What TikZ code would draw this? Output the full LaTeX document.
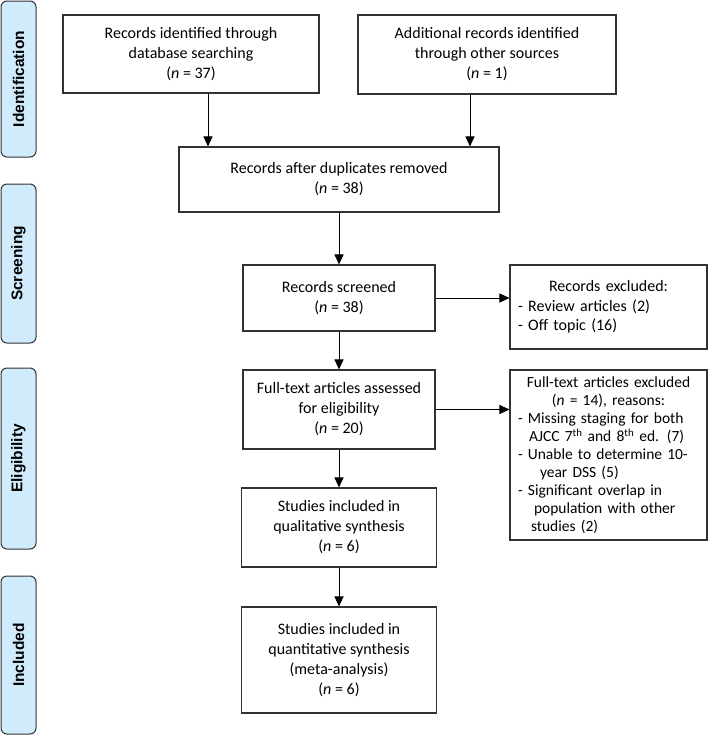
\documentclass[tikz,border=0pt]{standalone}
\usepackage{fontspec}
\setmainfont{Carlito}
\newfontfamily\phasefont{Liberation Sans}
\usetikzlibrary{arrows.meta}
\definecolor{phaseblue}{RGB}{208,236,252}
\definecolor{boxgray}{RGB}{50,50,50}

\begin{document}
\begin{tikzpicture}[x=1pt, y=-1pt]
	    \tikzstyle{box}=[draw=boxgray, line width=1.1pt, rectangle, inner sep=0pt, align=center, font=\fontsize{16}{20}\selectfont]
	    \tikzstyle{listbox}=[draw=boxgray, line width=1.1pt, rectangle, inner sep=0pt, text width=181pt, font=\fontsize{16}{19.5}\selectfont]
	    \tikzstyle{phase}=[draw=boxgray, line width=1pt, fill=phaseblue, rounded corners=6pt, inner sep=0pt, minimum height=35pt, rotate=90, font=\phasefont\bfseries\fontsize{15.5}{17}\selectfont]
	    \tikzstyle{arrow}=[draw, line width=1pt, black, -{Triangle[length=10pt,width=9pt]}]
	    \useasboundingbox (0,0) rectangle (709,736);
	    % phases
	    \node[phase, minimum width=156pt] (p1) at (18.5,79) {Identification};
	    \node[phase, minimum width=159pt] (p2) at (18.5,263.5) {Screening};
	    \node[phase, minimum width=181pt] (p3) at (18.5,458.5) {Eligibility};
	    \node[phase, minimum width=158pt] (p4) at (18.5,655) {Included};
	    % main boxes
	    \node[box, minimum width=256pt, minimum height=78pt] (ident) at (191,54) {Records identified through\\database searching\\(\textit{n} = 37)};
	    \node[box, minimum width=258pt, minimum height=79pt] (other) at (487,54.5) {Additional records identified\\through other sources\\(\textit{n} = 1)};
	    \node[box, minimum width=320pt, minimum height=65pt] (dup) at (339,179.5) {Records after duplicates removed\\(\textit{n} = 38)};
	    \node[box, minimum width=192pt, minimum height=66pt] (screen) at (339,298) {Records screened\\(\textit{n} = 38)};
	    \node[box, minimum width=192pt, minimum height=79pt] (full) at (339,409.5) {Full-text articles assessed\\for eligibility\\(\textit{n} = 20)};
	    \node[box, minimum width=195pt, minimum height=79pt] (qual) at (339,527.5) {Studies included in\\qualitative synthesis\\(\textit{n} = 6)};
	    \node[box, minimum width=195pt, minimum height=106pt] (quant) at (339,660) {Studies included in\\quantitative synthesis\\(meta-analysis)\\(\textit{n} = 6)};
	    % exclusion boxes
	    \node[listbox, minimum width=197pt, minimum height=84pt] (excl) at (608.5,307) {{\centering Records excluded:\par}\raggedright - Review articles (2)\\- Off topic (16)};
	    \node[listbox, minimum width=197pt, minimum height=170pt, font=\fontsize{15.5}{18}\selectfont] (fexcl) at (608.5,455) {{\centering Full-text articles excluded\\(\textit{n} = 14), reasons:\par}\raggedright - Missing staging for both\\\hspace*{11pt}AJCC 7\textsuperscript{th} and 8\textsuperscript{th} ed. (7)\\- Unable to determine 10-\\\hspace*{22pt}year DSS (5)\\- Significant overlap in\\\hspace*{16pt}population with other\\\hspace*{13pt}studies (2)};
	    % connectors
	    \draw[arrow] ([xshift=17pt]ident.south) -- ([xshift=17pt]ident.south |- dup.north);
	    \draw[arrow] ([xshift=-17pt]other.south) -- ([xshift=-17pt]other.south |- dup.north);
	    \draw[arrow] (dup) -- (screen);
	    \draw[arrow] (screen) -- (full);
	    \draw[arrow] (full) -- (qual);
	    \draw[arrow] (qual) -- (quant);
	    \draw[arrow] (screen.east) -- (screen.east -| excl.west);
	    \draw[arrow] (full.east) -- (full.east -| fexcl.west);
	\end{tikzpicture}
\end{document}
